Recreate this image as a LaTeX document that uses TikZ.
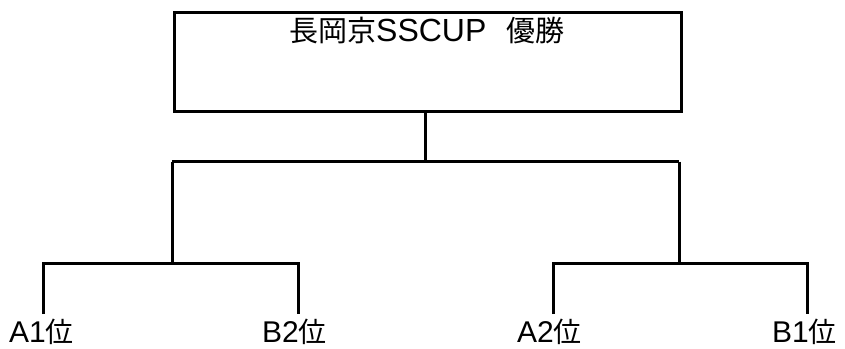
\documentclass[tikz,border=0pt]{standalone}
\usepackage{fontspec}
\setmainfont{Liberation Sans}
\newfontfamily\cjk{Noto Sans CJK JP}
\newcommand{\tcj}[1]{{\cjk\fontsize{29}{31}\selectfont #1}}
\newcommand{\lcj}[1]{{\cjk\fontsize{28}{30}\selectfont #1}}
\begin{document}
\begin{tikzpicture}[x=1pt,y=-1pt,
  line/.style={line width=3pt},
  lbl/.style={font=\fontsize{30}{32}\selectfont, inner sep=0pt, anchor=base west}]
\useasboundingbox (0,0) rectangle (845,348);
\node[draw, line width=3pt, minimum width=507pt, minimum height=99pt, anchor=north west, inner sep=0pt] (box) at (172.5,11) {};
\node[font=\fontsize{32}{34}\selectfont, inner sep=0pt, anchor=base west] (title) at (289,41) {\tcj{長岡京}SSCUP\hspace{20pt}\tcj{優勝}};
\coordinate (j) at (425.5,161.5);
\coordinate (jl) at (172,161.5);
\coordinate (jr) at (679,161.5);
\coordinate (l) at (172,263.5);
\coordinate (r) at (680,263.5);
\coordinate (l1) at (43.5,263.5);
\coordinate (l2) at (298,263.5);
\coordinate (r1) at (553,263.5);
\coordinate (r2) at (807,263.5);
\coordinate (l1b) at (43.5,314);
\coordinate (l2b) at (298,314);
\coordinate (r1b) at (553,314);
\coordinate (r2b) at (807,314);
\draw[line] (box.south -| j) -- (j);
\draw[line] (jl) -- (jr);
\draw[line] (jl) -- (l);
\draw[line] (jr) -- (jr |- r);
\draw[line] (l1b) -- (l1) -- (l2) -- (l2b);
\draw[line] (r1b) -- (r1) -- (r2) -- (r2b);
\node[lbl] (a1) at (9,342) {A1\lcj{位}};
\node[lbl] (b2) at (262,342) {B2\lcj{位}};
\node[lbl] (a2) at (517,342) {A2\lcj{位}};
\node[lbl] (b1) at (772,342) {B1\lcj{位}};
\end{tikzpicture}
\end{document}
